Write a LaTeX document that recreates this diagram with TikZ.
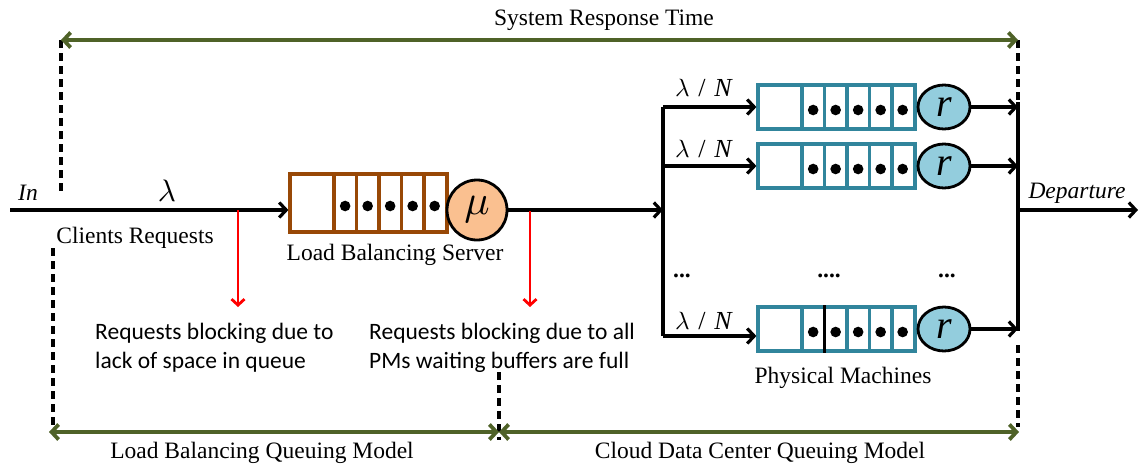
\documentclass[tikz,border=0pt]{standalone}
\usepackage{graphicx}
\usepackage{fontspec}
\setmainfont{Liberation Serif}
\newfontfamily\notefont{Carlito}
\usetikzlibrary{arrows.meta,shapes.geometric,calc}

\definecolor{lbbrown}{RGB}{152,72,6}
\definecolor{lbfill}{RGB}{250,192,144}
\definecolor{pmteal}{RGB}{49,133,156}
\definecolor{pmfill}{RGB}{147,205,221}
\definecolor{olive}{RGB}{79,98,40}

\tikzset{
  wire/.style={line width=3.2pt, black},
  flow/.style={wire, -{Straight Barb[length=7pt,width=15pt]}},
  dashline/.style={line width=3.2pt, black, dash pattern=on 8pt off 5pt},
  span/.style={line width=3.8pt, olive, {Straight Barb[length=7pt,width=15pt]}-{Straight Barb[length=7pt,width=15pt]}},
  block/.style={line width=2.8pt, red, -{Straight Barb[length=6pt,width=13pt]}},
  lbqueue/.style={draw=lbbrown, line width=3.2pt, fill=white, minimum width=157pt, minimum height=58pt, inner sep=0pt},
  pmqueue/.style={draw=pmteal, line width=3.2pt, fill=white, minimum width=157pt, minimum height=44pt, inner sep=0pt},
  lbserver/.style={circle, draw=black, line width=2.8pt, fill=lbfill, minimum size=60pt, inner sep=0pt},
  pmserver/.style={ellipse, draw=black, line width=2.8pt, fill=pmfill, minimum width=52pt, minimum height=44pt, inner sep=0pt},
  lbl/.style={font=\fontsize{23.5}{28}\selectfont, inner sep=0pt},
  note/.style={font=\notefont\fontsize{23.5}{29}\selectfont, align=left, anchor=west, inner sep=0pt},
}

% a math symbol set at normal size and enlarged
\newcommand{\bigsym}[2]{\scalebox{#1}{\normalsize$#2$}}

% cell dividers and the waiting customers of a queue box
\newcommand{\queuecells}[2]{%
  \foreach \dx in {45.5,68,90.5,113,135.5}
    \draw[#2, line width=3.2pt] ($(#1.north west)+(\dx,0)$) -- ($(#1.south west)+(\dx,0)$);
  \foreach \dx in {56.75,79.25,101.75,124.25,146.25}
    \fill ($(#1.west)+(\dx,3)$) circle (5.3pt);
}

\begin{document}
\begin{tikzpicture}[x=1pt,y=-1pt]
\useasboundingbox (0,0) rectangle (1139,463);

% ---------- load balancing stage ----------
\node[lbqueue] (lbq) at (368.5,203) {};
\queuecells{lbq}{lbbrown}
\node[lbserver] (mu) at (477,210) {\bigsym{4.2}{\mu}};

\coordinate (in) at (10,210);
\draw[flow] (in) -- (in -| lbq.west);

\node[lbl, font=\fontsize{23.5}{28}\selectfont\itshape] (inlbl) at (28,193) {In};
\node[lbl] (lam) at (167,191) {\bigsym{3.1}{\lambda}};
\node[lbl] (clients) at (135,238) {Clients Requests};
\node[lbl] (lbs) at (395,255) {Load Balancing Server};

% ---------- dispatch to the physical machines ----------
\coordinate (split) at (663,210);
\draw[flow] (mu.east) -- (split);
\coordinate (b1) at (663,107);
\coordinate (b2) at (663,166);
\coordinate (b3) at (663,336);
\draw[wire] (b1) -- (b3);

\node[pmqueue] (pm1) at (836.5,107) {};
\node[pmqueue] (pm2) at (836.5,166) {};
\node[pmqueue] (pm3) at (836.5,329) {};
\queuecells{pm1}{pmteal}
\queuecells{pm2}{pmteal}
\queuecells{pm3}{pmteal}
\draw[black, line width=2.2pt] ($(pm3.north west)+(68,0)$) -- ($(pm3.south west)+(68,0)$);

\node[pmserver, anchor=west] (r1) at (pm1.east) {\fontsize{40}{40}\selectfont\itshape r};
\node[pmserver, anchor=west] (r2) at (pm2.east) {\fontsize{40}{40}\selectfont\itshape r};
\node[pmserver, anchor=west] (r3) at (pm3.east) {\fontsize{40}{40}\selectfont\itshape r};

\draw[flow] (b1) -- (b1 -| pm1.west);
\draw[flow] (b2) -- (b2 -| pm2.west);
\draw[flow] (b3) -- (b3 -| pm3.west);

\node[lbl, font=\fontsize{26}{30}\selectfont] (ln1) at (704,88) {\bigsym{2.5}{\lambda}\,\,/\,\,\textit{N}};
\node[lbl, font=\fontsize{26}{30}\selectfont] (ln2) at (704,149) {\bigsym{2.5}{\lambda}\,\,/\,\,\textit{N}};
\node[lbl, font=\fontsize{26}{30}\selectfont] (ln3) at (704,321) {\bigsym{2.5}{\lambda}\,\,/\,\,\textit{N}};

\node[lbl, font=\bfseries\fontsize{23.5}{28}\selectfont] (d1) at (682,276) {...};
\node[lbl, font=\bfseries\fontsize{23.5}{28}\selectfont] (d2) at (829,276) {....};
\node[lbl, font=\bfseries\fontsize{23.5}{28}\selectfont] (d3) at (947,276) {...};
\node[lbl] (pms) at (843,378) {Physical Machines};

% ---------- departure ----------
\coordinate (j1) at (1018,102);
\coordinate (j3) at (1018,331);
\draw[wire] (j1) -- (j3);
\draw[flow] (r1.east) -- (r1.east -| j1);
\draw[flow] (r2.east) -- (r2.east -| j1);
\draw[flow] (r3.east) -- (r3.east -| j1);
\coordinate (dep0) at (1018,210);
\coordinate (dep1) at (1138,210);
\draw[flow] (dep0) -- (dep1);
\node[lbl, font=\fontsize{23.5}{28}\selectfont\itshape] (deplbl) at (1077,193) {Departure};

% ---------- blocking points ----------
\coordinate (blk1) at (238,210);
\coordinate (blk1e) at (238,307);
\coordinate (blk2) at (530,211);
\coordinate (blk2e) at (530,307);
\draw[block] (blk1) -- (blk1e);
\draw[block] (blk2) -- (blk2e);
\node[note] (n1) at (95,348) {Requests blocking due to\\lack of space in queue};
\node[note] (n2) at (369,348) {Requests blocking due to all\\PMs waiting buffers are full};

% ---------- time spans ----------
\coordinate (tl) at (61,40);
\coordinate (tr) at (1018,40);
\draw[dashline] (tl) -- (61,193);
\draw[dashline] (tr) -- (j1);
\draw[span] (tl) -- (tr);
\node[lbl] (srt) at (604,20) {System Response Time};

\coordinate (bl) at (49,432);
\coordinate (bm) at (499,432);
\coordinate (br) at (1019,432);
\draw[dashline] (53,248) -- (53,432);
\draw[dashline] (499,372) -- (499,440);
\draw[dashline] (1018,345) -- (1018,427);
\draw[span] (bl) -- (bm);
\draw[span] (bm) -- (br);
\node[lbl] (lbm) at (262,453) {Load Balancing Queuing Model};
\node[lbl] (cdm) at (760,453) {Cloud Data Center Queuing Model};
\end{tikzpicture}
\end{document}
